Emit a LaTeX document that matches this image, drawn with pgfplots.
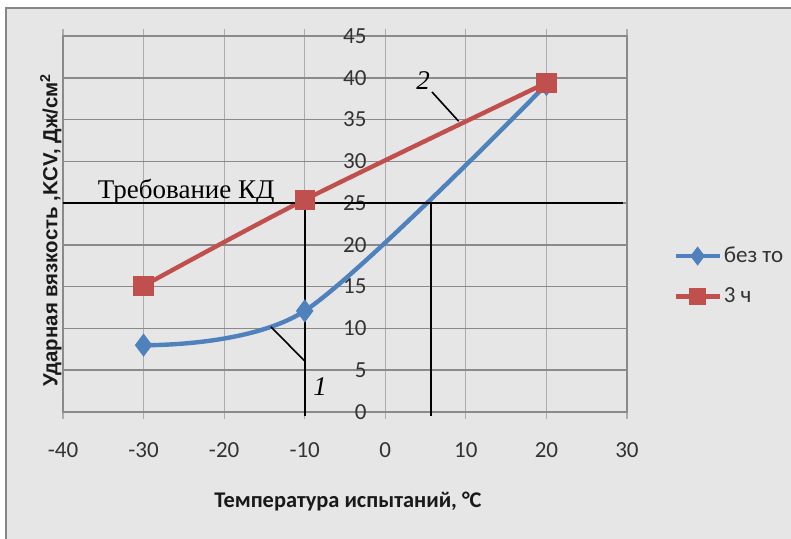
\documentclass[border=0pt]{standalone}
\usepackage{pgfplots}
\pgfplotsset{compat=1.18}
\usepackage{fontspec}
\setmainfont{Carlito}
\newfontfamily\serif{Liberation Serif}
\newfontfamily\arialbold{Liberation Sans}

\definecolor{bg}{RGB}{230,230,230}
\definecolor{frame}{RGB}{134,134,134}
\definecolor{ser1}{RGB}{79,129,189}
\definecolor{ser2}{RGB}{192,80,77}
\definecolor{gridh}{RGB}{138,138,138}
\definecolor{gridv}{RGB}{172,172,172}

\begin{document}
\begin{tikzpicture}
\useasboundingbox (-31.5pt,-63.5pt) rectangle (364pt,206pt);
\clip (-31.5pt,-63.5pt) rectangle (364pt,206pt);
\fill[white] (-31.5pt,-63.5pt) rectangle (364pt,206pt);
\draw[fill=bg, draw=frame, line width=1.3pt] (-28.5pt,-80pt) rectangle (380pt,202pt);
\begin{axis}[
  scale only axis, width=282pt, height=188pt,
  xmin=-40, xmax=30, ymin=0, ymax=45,
  xtick={-40,-30,...,30}, ytick={0,5,...,45},
  xticklabels={-40,-30,-20,-10,0,10,20,30},
  /pgf/number format/assume math mode=true,
  ticklabel style={font=\fontsize{11.5}{13}\selectfont, text=black!80},
  xticklabel style={yshift=-8.5pt},
  yticklabel style={anchor=east, xshift=158.8pt},
  tick align=outside, major tick length=3.5pt,
  xtick style={draw=gridv, line width=0.6pt},
  ytick style={draw=none},
  axis line style={draw=gridh, line width=0.6pt},
  grid=major,
  every axis x grid/.append style={draw=gridv, line width=0.6pt},
  every axis y grid/.append style={draw=gridh, line width=0.8pt},
  clip=false,
  xlabel={\bfseries Температура испытаний, °C},
  ylabel={\arialbold\bfseries Ударная вязкость ,KCV, Дж/см\textsuperscript{2}},
  every axis x label/.style={at={(rel axis cs:0.5,0)}, xshift=1.5pt, yshift=-45pt, anchor=center, font=\fontsize{11.2}{12}\selectfont, text=black!90},
  every axis y label/.style={at={(rel axis cs:0,0.484)}, xshift=-6pt, rotate=90, anchor=center, font=\fontsize{10.2}{12}\selectfont, text=black!90},
  legend style={draw=none, fill=none, inner sep=0pt, at={(1.0816,0.3617)}, anchor=west,
    nodes={inner sep=1pt, anchor=west}, row sep=9pt,
    font=\fontsize{11.5}{13}\selectfont, text=black!80},
  legend cell align=left,
  legend image code/.code={\draw[mark repeat=2,mark phase=2,#1] plot coordinates {(0pt,0pt)(11pt,0pt)(22pt,0pt)};},
  legend image post style={mark size=3pt},
]
\addplot[ser1, line width=2.2pt, smooth, mark=diamond*, mark size=4pt, mark options={solid}]
  coordinates {(-30,8.0)(-10,12.1)(20,39.2)};
\addlegendentry{без то}
\addplot[ser2, line width=2.2pt, smooth, mark=square*, mark size=4pt, mark options={solid}]
  coordinates {(-30,15.1)(-10,25.4)(20,39.4)};
\addlegendentry{3 ч}

% requirement line and construction lines
\addplot[black, line width=1pt, forget plot] coordinates {(-40,25)(29.5,25)};
\addplot[black, line width=1pt, forget plot] coordinates {(-10,25)(-10,-0.5)};
\addplot[black, line width=1pt, forget plot] coordinates {(5.7,25)(5.7,-0.5)};
\addplot[black, line width=0.8pt, forget plot] coordinates {(-14.2,10.2)(-10,6.1)};
\addplot[black, line width=0.8pt, forget plot] coordinates {(5.8,38.3)(9.1,34.8)};

\node[anchor=base, font=\serif\fontsize{13.5}{15}\selectfont] at (axis cs:-24.7,25.6) {Требование КД};
\node[font=\serif\itshape\fontsize{13.5}{15}\selectfont] at (axis cs:-8.1,3.0) {1};
\node[font=\serif\itshape\fontsize{13.5}{15}\selectfont] at (axis cs:4.7,39.7) {2};
\end{axis}
\end{tikzpicture}
\end{document}
